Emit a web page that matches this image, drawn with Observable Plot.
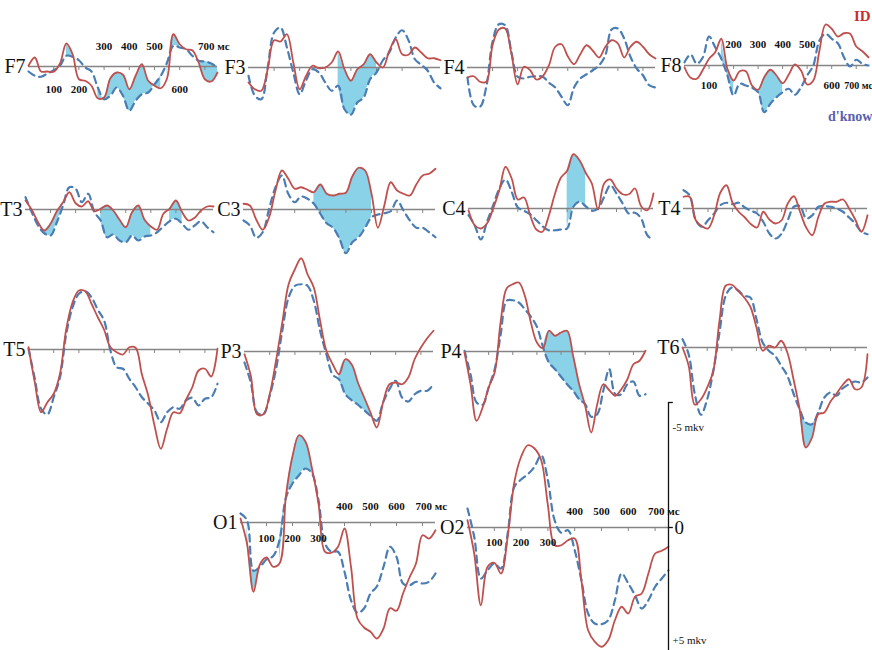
<!DOCTYPE html>
<html><head><meta charset="utf-8">
<script src="https://cdn.jsdelivr.net/npm/d3@7"></script>
<script src="https://cdn.jsdelivr.net/npm/@observablehq/plot@0.6"></script>
<style>
body{margin:0;background:#fff;}
#chart{position:relative;width:872px;height:650px;overflow:hidden;background:#fff;font-family:"Liberation Serif",serif;}
.panel{position:absolute;}
.panel svg{overflow:visible;max-width:none !important;}
.legend{position:absolute;font-family:"Liberation Serif",serif;font-weight:bold;white-space:nowrap;}
</style></head><body><div id="chart"></div>
<script>
// time points, ms
const times = [0,25,50,75,100,125,150,175,200,225,250,275,300,325,350,375,400,425,450,475,500,525,550,575,600,625,650,675,700,725,750];
// amplitudes in µV (negative = up)
const f7ID    = [-0.03,-0.36,0.2,0.2,0.21,-0.12,-0.92,-0.49,0.51,0.57,0.77,1.27,1.24,0.47,0.24,0.33,0.91,0.37,-0.09,0.57,0.77,0.87,0.47,-1.29,-0.89,-0.69,-0.65,-0.16,0.51,0.6,0.24];
const f7Dknow = [0.2,0.37,0.41,0.28,0.15,-0.03,-0.43,-0.39,-0.25,0.04,0.2,0.84,1.31,1.17,0.84,1.17,1.77,1.37,1.11,1.04,0.71,0.37,-0.16,-0.83,-0.76,-0.69,-0.43,-0.23,-0.2,-0.12,0.04];
const f3ID    = [0.6,0.87,0.93,0.07,-1.09,-1.04,-1.33,-0.2,0.87,0.33,-0.07,0.03,0,-0.2,-0.64,0.07,0.53,0.07,-0.13,-0.53,-0.2,0,-0.67,-1.13,-0.53,-0.51,-0.8,-0.6,-0.37,-0.37,-0.29];
const f3Dknow = [0.33,1.13,1.27,0,-1.4,-1.6,-0.8,0.2,1.07,0.51,0.07,0.2,0.6,0.93,0.73,1.67,1.89,1.4,1.2,0.47,0.2,-0.29,-0.6,-1.2,-1.49,-1.09,-0.33,-0.11,0.13,0.6,0.83];
const f4ID    = [0.4,0.35,0.57,0.57,-0.89,-1.52,-1.56,-0.56,0.67,-0.03,0.11,0.48,0.35,-0.09,-0.83,-0.93,-0.45,-0.13,-0.53,-0.89,-0.67,-0.4,-0.83,-1.09,-0.96,-0.4,-0.83,-1.03,-0.83,-0.53,-0.36];
const f4Dknow = [0.4,1.51,1.57,0.77,-1.03,-1.73,-1.69,-0.63,0.37,0.44,0.37,0.35,0.37,0.61,0.8,1.17,1.51,0.8,0.44,0.27,0.11,-0.09,-0.49,-1.52,-1.56,-1.16,-0.43,0.04,0.31,0.71,0.8];
const f8ID    = [0.07,0.49,0.53,0.17,-0.27,-0.53,-1.07,0.13,0.6,0.23,0.23,0.8,0.97,0.47,0.17,0.4,0.71,0.36,-0.04,0.2,0.76,0.6,-0.6,-1.64,-1.47,-1.16,-1.29,-1.27,-0.76,-0.57,-0.33];
const f8Dknow = [-0.13,-0.44,-0.07,-0.33,-1.16,-0.73,-0.27,0.4,1.2,0.73,0.8,0.89,1.07,1.87,1.53,1.27,1.07,0.93,1.17,0.87,0.4,0,-1,-1.27,-1.07,-0.89,-0.33,0.04,-0.23,-0.07,0];
const t3ID    = [-0.36,0.01,0.51,0.84,0.57,0.07,-0.29,-0.69,-0.25,-0.12,-0.33,0.07,-0.03,-0.16,0.04,0.41,0.71,0.11,-0.16,0.41,0.68,0.81,0.17,-0.03,-0.36,0.11,0.44,0.33,0.04,-0.12,-0.12];
const t3Dknow = [-0.49,0.11,0.64,0.95,1.04,0.51,-0.16,-0.89,-0.83,-0.29,-0.63,0.11,0.44,1.11,1,1.24,1.31,1.04,1.24,1.08,1.04,0.91,0.68,0.47,0.37,0.57,0.81,0.64,0.47,0.71,0.91];
const c3ID    = [-0.23,-0.16,0.41,0.81,0.31,-0.76,-1.56,-1.23,-0.83,-0.89,-0.79,-0.69,-1,-0.63,-0.56,-0.63,-0.67,-1.32,-1.67,-1.56,-0.63,0.73,-0.16,-1.09,-0.76,-0.63,-0.56,-1,-1.36,-1.43,-1.63];
const c3Dknow = [0.44,0.64,1.13,0.91,-0.03,-0.89,-1.36,-0.63,-0.29,-0.52,-0.43,-0.23,0.17,0.55,0.73,1.17,1.75,1.31,1.11,0.73,0.31,0.2,0.15,0.07,-0.36,0.04,0.44,0.73,0.73,0.91,1.11];
const c4ID    = [0.07,0.67,0.8,0.6,0,-0.73,-1.67,-1.2,-0.36,-0.44,0.27,0.84,0.93,0.31,-0.57,-1.24,-1.51,-2.17,-1.93,-1.43,-1,0.04,-1,-1.16,-0.8,-0.57,-0.57,-0.8,-0.09,0.07,-0.6];
const c4Dknow = [0.27,0.67,1.24,0.53,-0.13,-0.8,-1.16,-0.67,-0.04,0.09,0.23,0.47,0.71,0.87,0.87,0.84,0.8,-0.07,-0.27,-0.09,0.09,0,-0.47,-0.93,-0.6,-0.2,0.2,0.17,0.4,1.07,1.27];
const t4ID    = [-0.47,-0.47,0.47,0.71,0.8,0.27,-0.63,-0.93,-0.23,0.13,0.36,0.63,0.76,0.13,0.44,0.6,0.47,-0.2,-0.49,0.13,0.76,1.07,0.33,-0.2,-0.27,-0.27,-0.36,0,0.44,0.93,0.27];
const t4Dknow = [-0.73,-0.53,0.47,0.73,0.47,0.2,-0.13,-0.23,-0.17,-0.23,-0.04,0.09,0.2,0.53,1,1.2,1,0.47,-0.07,-0.09,0.4,0.27,-0.07,-0.09,-0.07,0,0.13,0.36,0.6,0.93,1.03];
const t5ID    = [-0.09,1.31,2.51,2.11,1.77,0.97,-0.83,-1.89,-2.36,-2.33,-1.83,-1.29,-0.79,-0.09,0.11,0.2,-0.09,-0.07,1,1.84,3.04,3.97,3.17,2.51,2.55,2.01,1.51,0.84,0.77,1.08,-0.03];
const t5Dknow = [-0.03,1.17,2.37,2.6,1.91,1.11,-0.63,-1.69,-2.23,-2.33,-2.09,-1.59,-1.16,0.04,0.71,0.77,1.17,1.51,1.91,2.17,2.44,2.91,2.51,2.31,2.37,2.04,1.93,2.24,1.97,1.91,1.37];
const p3ID    = [0.11,0.97,2.51,2.51,1.71,0.37,-1.16,-2.69,-3.29,-3.73,-3.09,-2.56,-1.23,-0.03,0.51,0.91,0.31,0.51,1.24,1.84,2.44,3.04,2.04,1.31,1.24,1.31,1.04,0.31,-0.16,-0.53,-0.83];
const p3Dknow = [0.44,1.24,2.44,2.51,1.77,0.71,-0.83,-2.16,-2.63,-2.69,-2.63,-2.03,-0.83,0.11,0.93,1.11,1.71,1.95,2.13,2.35,2.57,2.77,2.04,1.51,1.17,1.84,2,1.71,1.57,1.57,1.31];
const p4ID    = [0.04,1.31,2.77,2.24,1.44,0.84,-1.2,-2.53,-2.69,-2.76,-2.23,-1.16,-0.36,-0.13,-0.83,-0.63,-0.76,-0.83,0.17,1.31,2.17,3.24,2.11,1.31,1.55,1.77,1.51,1.11,0.51,0.37,-0.03];
const p4Dknow = [-0.03,0.91,2.04,2.13,1.44,0.71,-0.69,-2.03,-2.05,-1.96,-1.69,-1.39,-0.99,-0.19,0.44,0.71,1.01,1.31,1.57,1.91,2.11,2.61,2.51,1.57,0.71,1.71,1.71,1.31,1.2,1.77,1.71];
const t6ID    = [0,0.73,2.29,2.07,1.6,0.93,-1.07,-2.47,-2.51,-2.27,-2,-1.63,-0.8,0.13,-0.07,0,-0.27,0.2,1.27,2.47,4,3.6,2.67,2.6,2.16,1.84,1.49,1.27,1.67,1.6,0.27];
const t6Dknow = [-0.33,0.27,1.87,2.69,2.07,0.93,-0.6,-2.07,-2.4,-2.29,-2.07,-2,-1.13,-0.2,0.13,0.33,0.73,1.13,1.84,2.47,3,3.07,2.6,2,1.8,1.93,1.63,1.47,1.36,1.4,1.2];
const o1ID    = [-0.16,0.84,2.77,1.67,1.4,1.77,1.64,-1.09,-2.65,-3.49,-3.23,-2.16,-0.76,1.17,1.21,0.97,0.24,1.77,3.84,4.2,4.37,4.64,4.24,3.43,3.53,2.84,2.2,1.64,0.51,0.64,0.31];
const o1Dknow = [-0.36,-0.09,1.93,1.77,1.48,1.35,0.71,-1,-1.56,-1.89,-2.16,-1.96,-0.89,0.84,1.17,1.17,1.97,3.11,3.61,3.44,2.84,2.55,1.77,0.97,1.37,2.44,2.51,2.37,2.44,2.37,2.04];
const o2ID    = [-0.29,1.04,3.11,1.57,1.41,1.84,0.37,-1.83,-2.83,-3.29,-3.16,-2.69,-0.89,0.71,0.71,0.51,0.44,2.11,4.11,4.57,4.77,4.51,3.71,3.17,3.44,2.77,2.64,1.84,1.04,0.93,0.77];
const o2Dknow = [-0.76,0.37,2.04,1.71,1.44,1.64,0.24,-1.63,-1.92,-2.13,-2.43,-2.89,-1.89,-0.29,0.21,0.11,0.91,2.11,3.44,3.84,3.87,3.71,2.91,1.84,2.24,2.71,3.24,2.91,2.37,2.04,1.71];

// significant-difference windows (ms)
const f7Shade = [[150,175],[275,525],[550,600],[675,750]];
const f3Shade = [[350,500]];
const f8Shade = [[150,200],[275,400]];
const t3Shade = [[75,150],[300,500],[575,625]];
const c3Shade = [[275,500]];
const c4Shade = [[400,475]];
const p3Shade = [[375,500]];
const p4Shade = [[325,500]];
const t6Shade = [[475,550]];
const o1Shade = [[25,75],[150,300]];

// time tick labels
const gridTicks = [100,200,300,400,500,600,700];
const f7TicksAbove = [300,400,500,700], f7TicksBelow = [100,200,600];
const f8TicksAbove = [200,300,400,500], f8TicksBelow = [100,600,700];
const o1TicksAbove = [400,500,600,700], o1TicksBelow = [100,200,300];
const o2TicksAbove = [400,500,600,700], o2TicksBelow = [100,200,300];
const unitLabel = "мс";
const scaleTicks = [-5, 0, 5];
const scaleLabels = ["-5 mkv", "0", "+5 mkv"];
const legendNames = ["ID", "d'know"];

const RED = "#c0504d", BLUE = "#4a7db3", FILL = "#8ad2e8", GRAY = "#858585";
const PX = 25, Y_TOP = -5.2, Y_BOT = 5.4;

const panels = [
  {name:"F7", id:f7ID, dk:f7Dknow, shade:f7Shade, x0:28,  w:189, base:66,  above:f7TicksAbove, below:f7TicksBelow, dyA:-20, dyB:23},
  {name:"F3", id:f3ID, dk:f3Dknow, shade:f3Shade, x0:248, w:192, base:67},
  {name:"F4", id:f4ID, dk:f4Dknow, shade:[],      x0:467, w:188, base:67},
  {name:"F8", id:f8ID, dk:f8Dknow, shade:f8Shade, x0:684, w:184, base:65,  above:f8TicksAbove, below:f8TicksBelow, dyA:-21, dyB:20, dx700:-12, fs700:10},
  {name:"T3", id:t3ID, dk:t3Dknow, shade:t3Shade, x0:25,  w:188, base:209},
  {name:"C3", id:c3ID, dk:c3Dknow, shade:c3Shade, x0:243, w:192, base:209},
  {name:"C4", id:c4ID, dk:c4Dknow, shade:c4Shade, x0:468, w:185, base:208},
  {name:"T4", id:t4ID, dk:t4Dknow, shade:[],      x0:683, w:184, base:208},
  {name:"T5", id:t5ID, dk:t5Dknow, shade:[],      x0:28,  w:189, base:349},
  {name:"P3", id:p3ID, dk:p3Dknow, shade:p3Shade, x0:244, w:189, base:351},
  {name:"P4", id:p4ID, dk:p4Dknow, shade:p4Shade, x0:464, w:181, base:351},
  {name:"T6", id:t6ID, dk:t6Dknow, shade:t6Shade, x0:682, w:185, base:347},
  {name:"O1", id:o1ID, dk:o1Dknow, shade:o1Shade, x0:240, w:195, base:522, above:o1TicksAbove, below:o1TicksBelow, dyA:-16, dyB:16},
  {name:"O2", id:o2ID, dk:o2Dknow, shade:[],      x0:467, w:201, base:527, above:o2TicksAbove, below:o2TicksBelow, dyA:-16, dyB:15, scale:true}
];

const chart = document.getElementById("chart");
const fmtTick = d => d === 700 ? `700 ${unitLabel}` : String(d);

for (const p of panels) {
  const ml = 34, mr = 40;
  const rows = times.map((t, i) => ({t, id: p.id[i], dk: p.dk[i]}));
  const marks = [];
  for (const [a, b] of p.shade) {
    marks.push(Plot.areaY(rows.filter(r => r.t >= a && r.t <= b),
      {x: "t", y1: "id", y2: "dk", fill: FILL, curve: "catmull-rom"}));
  }
  marks.push(Plot.ruleY([0], {x1: 0, x2: 750, stroke: GRAY, strokeWidth: 1.6}));
  marks.push(Plot.ruleX(gridTicks, {y1: 0, y2: 0.16, stroke: GRAY, strokeWidth: 1}));
  marks.push(Plot.line(rows, {x: "t", y: "dk", stroke: BLUE, strokeWidth: 2.2, strokeDasharray: "7,5", curve: "catmull-rom"}));
  marks.push(Plot.line(rows, {x: "t", y: "id", stroke: RED, strokeWidth: 1.8, curve: "catmull-rom"}));
  marks.push(Plot.text([p.name], {x: 0, y: 0, text: d => d, dx: -3, textAnchor: "end", fontSize: 20,
    fontFamily: "Liberation Serif", fill: "#111"}));
  const tickFont = {fontWeight: "bold", fontFamily: "Liberation Serif", fill: "#111"};
  if (p.above) {
    const groups = [[p.above, p.dyA], [p.below, p.dyB]];
    for (const [arr, dy] of groups) {
      const plain = arr.filter(d => d !== 700), last = arr.filter(d => d === 700);
      marks.push(Plot.text(plain, {x: d => d, y: 0, text: fmtTick, dy, textAnchor: "middle", fontSize: 11, ...tickFont}));
      marks.push(Plot.text(last, {x: d => d, y: 0, text: fmtTick, dy, dx: p.dx700 ?? -7, textAnchor: "start",
        fontSize: p.fs700 ?? 11, ...tickFont}));
    }
  }
  if (p.scale) {
    marks.push(Plot.ruleX([750], {y1: scaleTicks[0], y2: Y_BOT, stroke: "#111", strokeWidth: 1.3}));
    marks.push(Plot.ruleY([scaleTicks[0], scaleTicks[1]], {x1: 750, x2: 768, stroke: "#111", strokeWidth: 1.3}));
    const sData = scaleTicks.map((v, i) => ({v, label: scaleLabels[i]}));
    marks.push(Plot.text(sData.filter(d => d.v < 0), {x: 750, y: "v", text: "label", dx: 4, dy: 25, textAnchor: "start",
      fontSize: 11, fontFamily: "Liberation Serif", fill: "#111"}));
    marks.push(Plot.text(sData.filter(d => d.v === 0), {x: 750, y: "v", text: "label", dx: 6, dy: 0, textAnchor: "start",
      fontSize: 19, fontFamily: "Liberation Serif", fill: "#111"}));
    marks.push(Plot.text(sData.filter(d => d.v > 0), {x: 750, y: "v", text: "label", dx: 4, dy: -12, textAnchor: "start",
      fontSize: 11, fontFamily: "Liberation Serif", fill: "#111"}));
  }
  const h = Math.round((Y_BOT - Y_TOP) * PX);
  const W = ml + p.w + mr;
  const svg = Plot.plot({
    width: W, height: h,
    marginLeft: ml, marginRight: mr, marginTop: 0, marginBottom: 0,
    x: {domain: [0, 750], axis: null},
    y: {domain: [Y_TOP, Y_BOT], reverse: true, axis: null},
    style: {background: "transparent", overflow: "visible", maxWidth: "none"},
    marks
  });
  svg.style.width = W + "px";
  svg.style.height = h + "px";
  const div = document.createElement("div");
  div.className = "panel";
  div.style.left = (p.x0 - ml) + "px";
  div.style.top = (p.base + Y_TOP * PX) + "px";
  div.style.width = W + "px";
  div.style.height = h + "px";
  div.appendChild(svg);
  chart.appendChild(div);
}

const lgId = document.createElement("div");
lgId.className = "legend";
lgId.style.cssText += "left:854px;top:8px;font-size:15px;color:#c62f2f;";
lgId.textContent = legendNames[0];
chart.appendChild(lgId);
const lgDk = document.createElement("div");
lgDk.className = "legend";
lgDk.style.cssText += "left:828px;top:109px;font-size:14px;color:#5a5fae;";
lgDk.textContent = legendNames[1];
chart.appendChild(lgDk);
</script></body></html>
